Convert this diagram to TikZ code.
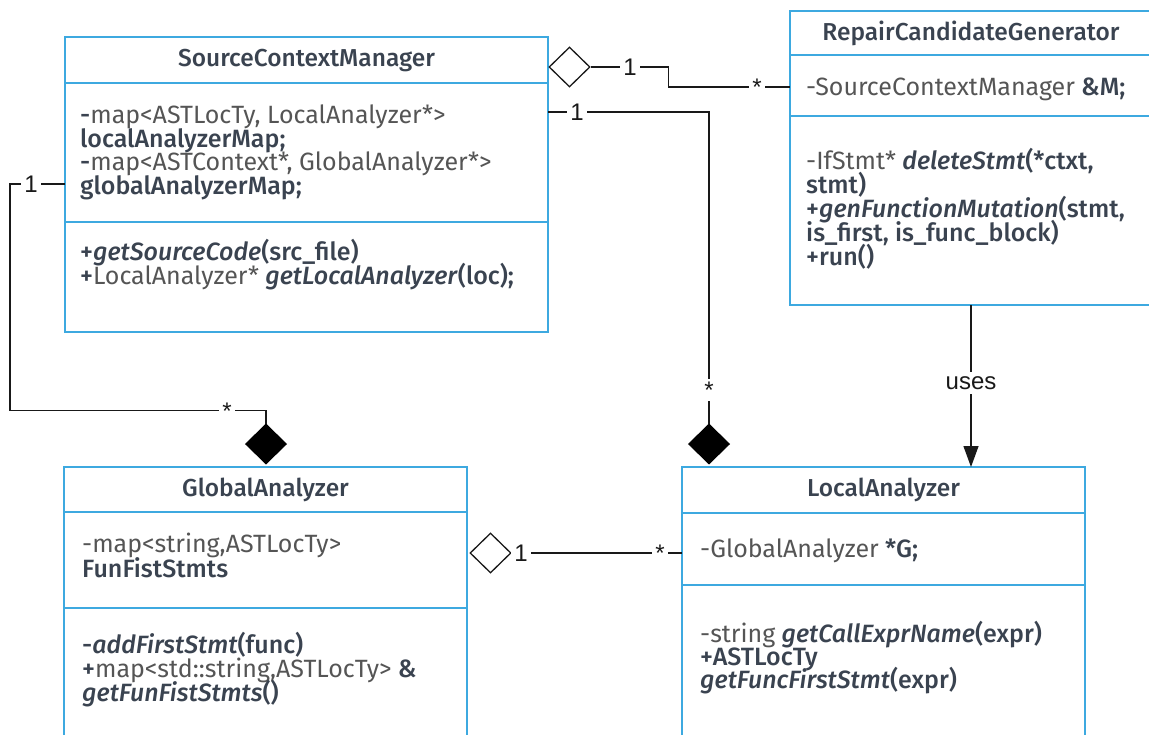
\documentclass[tikz,border=0pt]{standalone}
\usepackage{fontspec}
\setmainfont{Fira Sans}[BoldFont={Fira Sans Medium}, BoldItalicFont={Fira Sans Medium Italic}]
\newfontfamily\connfont{Liberation Sans}
\usetikzlibrary{shapes.geometric,arrows.meta,calc}
\definecolor{umlblue}{HTML}{3DA9E0}
\definecolor{ink}{HTML}{3A4350}
\definecolor{typegray}{HTML}{555555}
\newcommand\tg[1]{{\mdseries\color{typegray}#1}}
\tikzset{
  classbox/.style={draw=umlblue, line width=2.5pt, inner sep=0pt, outer sep=0pt, anchor=north west},
  sepline/.style={draw=umlblue, line width=2.5pt},
  title/.style={anchor=base, inner sep=0pt, font=\fontsize{24.5}{24}\selectfont\bfseries, text=ink},
  member/.style={anchor=base west, inner sep=0pt, font=\fontsize{25}{24}\selectfont\bfseries, text=ink},
  conn/.style={draw=black!90, line width=1.3pt},
  mult/.style={fill=white, inner sep=3pt, font=\fontsize{24}{24}\selectfont\connfont, text=black!90},
  opendia/.style={diamond, draw=black!90, fill=white, line width=1.3pt, inner sep=0pt, minimum width=41pt, minimum height=40pt},
  filldia/.style={diamond, draw=black, fill=black, line width=1pt, inner sep=0pt, minimum width=41pt, minimum height=40pt},
}
\begin{document}
\begin{tikzpicture}[x=1pt,y=-1pt]
\useasboundingbox (0,0) rectangle (1149,734);
\clip (0,0) rectangle (1149,734);

% ---------- SourceContextManager ----------
\node[classbox, line width=1.2pt, minimum width=483pt, minimum height=295pt] (scm) at (65,37) {};
\draw[sepline, line width=1.2pt] ($(scm.north west)+(0,46)$) -- ($(scm.north east)+(0,46)$);
\draw[sepline, line width=1.2pt] ($(scm.north west)+(0,185)$) -- ($(scm.north east)+(0,185)$);
\node[title] (scmT) at (306.5,66) {SourceContextManager};
\node[member] (scmA1) at (80,123) {-\tg{map<ASTLocTy, LocalAnalyzer*>}};
\node[member] (scmA2) at (80,147) {localAnalyzerMap;};
\node[member] (scmA3) at (80,170) {-\tg{map<ASTContext*, GlobalAnalyzer*>}};
\node[member] (scmA4) at (80,194) {globalAnalyzerMap;};
\node[member] (scmM1) at (80,260) {+\textit{getSourceCode}(src\_file)};
\node[member] (scmM2) at (80,284) {+\tg{LocalAnalyzer*} \textit{getLocalAnalyzer}(loc);};

% ---------- RepairCandidateGenerator ----------
\node[classbox, minimum width=362pt, minimum height=294pt] (rcg) at (790,11) {};
\draw[sepline] ($(rcg.north west)+(0,44)$) -- ($(rcg.north east)+(0,44)$);
\draw[sepline] ($(rcg.north west)+(0,105)$) -- ($(rcg.north east)+(0,105)$);
\node[title] (rcgT) at (971,40) {RepairCandidateGenerator};
\node[member] (rcgA1) at (806,95) {\tg{-SourceContextManager} \&M;};
\node[member] (rcgM1) at (806,169) {\tg{-IfStmt*} \textit{deleteStmt}(*ctxt,};
\node[member] (rcgM2) at (806,193) {stmt)};
\node[member] (rcgM3) at (806,217) {+\textit{genFunctionMutation}(stmt,};
\node[member] (rcgM4) at (806,241) {is\_first, is\_func\_block)};
\node[member] (rcgM5) at (806,265) {+run()};

% ---------- GlobalAnalyzer ----------
\node[classbox, minimum width=403pt, minimum height=300pt] (ga) at (64,467) {};
\draw[sepline] ($(ga.north west)+(0,45)$) -- ($(ga.north east)+(0,45)$);
\draw[sepline] ($(ga.north west)+(0,141)$) -- ($(ga.north east)+(0,141)$);
\node[title] (gaT) at (265.5,496) {GlobalAnalyzer};
\node[member] (gaA1) at (82,552) {\tg{-map<string,ASTLocTy>}};
\node[member] (gaA2) at (82,577) {FunFistStmts};
\node[member] (gaM1) at (82,653) {-\textit{addFirstStmt}(func)};
\node[member] (gaM2) at (82,677) {+\tg{map<std::string,ASTLocTy>} \&};
\node[member] (gaM3) at (82,701) {\textit{getFunFistStmts}()};

% ---------- LocalAnalyzer ----------
\node[classbox, minimum width=403pt, minimum height=300pt] (la) at (682,467) {};
\draw[sepline] ($(la.north west)+(0,46)$) -- ($(la.north east)+(0,46)$);
\draw[sepline] ($(la.north west)+(0,118)$) -- ($(la.north east)+(0,118)$);
\node[title] (laT) at (883.5,496) {LocalAnalyzer};
\node[member] (laA1) at (700,557) {\tg{-GlobalAnalyzer} *G;};
\node[member] (laM1) at (700,642) {\tg{-string} \textit{getCallExprName}(expr)};
\node[member] (laM2) at (700,665) {+ASTLocTy};
\node[member] (laM3) at (700,688) {\textit{getFuncFirstStmt}(expr)};

% ---------- relation ends ----------
\node[opendia] (agg1) at (569.5,67) {};
\node[opendia] (agg2) at (490.5,553) {};
\node[filldia] (comp1) at (266,444) {};
\node[filldia] (comp2) at (709,444) {};

% ---------- connectors ----------
\draw[conn] (agg1.east) -- ++(78,0) |- ($(rcg.north west)+(0,76)$);
\draw[conn] ($(scm.north east)+(0,75)$) -| (comp2.north);
\draw[conn] ($(scm.north west)+(0,147)$) -- ++(-55,0) |- ($(comp1.north)+(0,-13)$) -- (comp1.north);
\draw[conn] (agg2.east) -- (la.west |- agg2.east);
\draw[conn, -{Triangle[width=15pt,length=21pt]}] (rcg.south) -- (rcg.south |- la.north);

% ---------- multiplicities and labels ----------
\node[mult] (m1) at (630,67) {1};
\node[mult] (m2) at (757,87) {*};
\node[mult] (m3) at (577,112) {1};
\node[mult] (m4) at (709,390) {*};
\node[mult] (m5) at (31,184) {1};
\node[mult] (m6) at (227,411) {*};
\node[mult] (m7) at (521,553) {1};
\node[mult] (m8) at (660,553) {*};
\node[mult, inner sep=4pt] (uses) at (971,383) {uses};
\end{tikzpicture}
\end{document}
